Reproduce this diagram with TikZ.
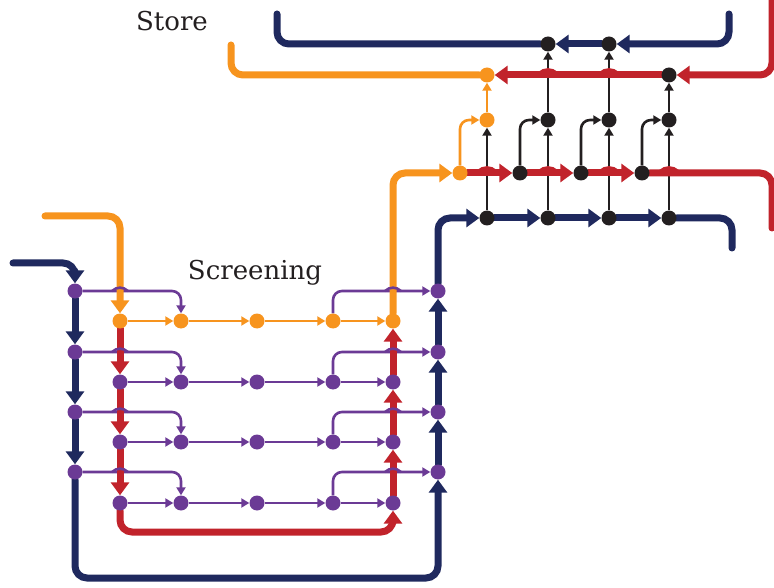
\documentclass[tikz,border=0pt]{standalone}
\usepackage{fontspec}
\setmainfont{DejaVu Serif}
\usetikzlibrary{arrows.meta,calc}
\definecolor{cnavy}{RGB}{31,41,94}
\definecolor{corange}{RGB}{247,148,30}
\definecolor{cred}{RGB}{193,35,43}
\definecolor{cpurple}{RGB}{107,58,149}
\definecolor{cblack}{RGB}{35,31,32}
\pgfdeclarelayer{thinl}
\pgfdeclarelayer{thickl}
\pgfsetlayers{thinl,thickl,main}
\newcommand{\bumpat}[3]{\draw[#3] (#1-8,#2) .. controls (#1-3,#2-4.5) and (#1+3,#2-4.5) .. (#1+8,#2);}
\begin{document}
\begin{tikzpicture}[x=1pt,y=-1pt,
  bigtip/.tip={Triangle[width=18pt,length=13pt]},
  smalltip/.tip={Triangle[width=9pt,length=8pt]},
  thickl/.style={line width=7pt, rounded corners=12pt, line cap=round},
  thinln/.style={line width=2.6pt, rounded corners=9pt},
  navyl/.style={thickl, draw=cnavy},
  orangel/.style={thickl, draw=corange},
  redl/.style={thickl, draw=cred},
  purl/.style={thinln, draw=cpurple, -smalltip},
  orthin/.style={thinln, draw=corange, -smalltip},
  blkl/.style={thinln, draw=cblack, -smalltip},
  dot/.style={circle, inner sep=0pt, minimum size=15pt, draw=none},
  pdot/.style={dot, fill=cpurple},
  odot/.style={dot, fill=corange},
  kdot/.style={dot, fill=cblack},
  lbl/.style={font=\fontsize{26}{30}\selectfont, text=cblack, inner sep=0pt}
]
\useasboundingbox (0,0) rectangle (774,588);

% labels
\node[lbl] (store) at (172,21) {Store};
\node[lbl] (screen) at (255,273) {Screening};

% left and right purple columns
\foreach \i/\y in {1/291,2/352,3/412,4/472} {
  \node[pdot] (L\i) at (75,\y) {};
  \node[pdot] (R\i) at (438,\y) {};
}
% screening rows
\foreach \c/\x in {1/120,2/181,3/257,4/333,5/393} {
  \node[odot] (A\c) at (\x,321) {};
}
\foreach \r/\y in {2/382,3/442,4/503} {
  \foreach \c/\x in {1/120,2/181,3/257,4/333,5/393} {
    \node[pdot] (P\r\c) at (\x,\y) {};
  }
}
% store region
\foreach \c/\x in {1/487,2/548,3/609,4/669} { \node[kdot] (B\c) at (\x,218) {}; }
\node[odot] (O1) at (460,173) {};
\node[kdot] (K1) at (520,173) {};
\node[kdot] (K2) at (581,173) {};
\node[kdot] (K3) at (642,173) {};
\node[odot] (O2) at (487,120) {};
\node[kdot] (C2) at (548,120) {};
\node[kdot] (C3) at (609,120) {};
\node[kdot] (C4) at (669,120) {};
\node[odot] (O3) at (487,75) {};
\node[kdot] (D4) at (669,75) {};
\node[kdot] (E2) at (548,44) {};
\node[kdot] (E3) at (609,44) {};

% free ends
\coordinate (navS) at (13,263);
\coordinate (navBot) at (250,578);
\coordinate (navE) at (732,248);
\coordinate (navT) at (729,14);
\coordinate (navT2) at (277,14);
\coordinate (orS) at (45,216);
\coordinate (orT) at (231,45);
\coordinate (redBot) at (250,532);
\coordinate (redE) at (772,228);
\coordinate (redT) at (772,-6);

\begin{pgfonlayer}{thinl}
  % purple feeds from left column
  \draw[purl] (L1) -| (A2);
  \draw[purl] (L2) -| (P22);
  \draw[purl] (L3) -| (P32);
  \draw[purl] (L4) -| (P42);
  % purple rows
  \foreach \r in {2,3,4} {
    \foreach \a/\b in {1/2,2/3,3/4,4/5} { \draw[purl] (P\r\a) -- (P\r\b); }
  }
  % purple outputs to right column
  \draw[purl] (A4) |- (R1);
  \draw[purl] (P24) |- (R2);
  \draw[purl] (P34) |- (R3);
  \draw[purl] (P44) |- (R4);
  % orange thin row
  \foreach \a/\b in {1/2,2/3,3/4,4/5} { \draw[orthin] (A\a) -- (A\b); }
  \draw[orthin] (O1) |- (O2);
  \draw[orthin] (O2) -- (O3);
  % black
  \draw[blkl] (B1) -- (O2);
  \draw[blkl] (B2) -- (C2);
  \draw[blkl] (B3) -- (C3);
  \draw[blkl] (B4) -- (C4);
  \draw[blkl] (C2) -- (E2);
  \draw[blkl] (C3) -- (E3);
  \draw[blkl] (C4) -- (D4);
  \draw[blkl] (K1) |- (C2);
  \draw[blkl] (K2) |- (C3);
  \draw[blkl] (K3) |- (C4);
\end{pgfonlayer}

\begin{pgfonlayer}{thickl}
  % navy
  \draw[navyl,-bigtip] (navS) -| (L1);
  \draw[navyl,-bigtip] (L1) -- (L2);
  \draw[navyl,-bigtip] (L2) -- (L3);
  \draw[navyl,-bigtip] (L3) -- (L4);
  \draw[navyl,-bigtip] (L4) |- (navBot) -| (R4);
  \draw[navyl,-bigtip] (R4) -- (R3);
  \draw[navyl,-bigtip] (R3) -- (R2);
  \draw[navyl,-bigtip] (R2) -- (R1);
  \draw[navyl,-bigtip] (R1) |- (B1);
  \draw[navyl,-bigtip] (B1) -- (B2);
  \draw[navyl,-bigtip] (B2) -- (B3);
  \draw[navyl,-bigtip] (B3) -- (B4);
  \draw[navyl] (B4) -| (navE);
  \draw[navyl,-bigtip] (navT) |- (E3);
  \draw[navyl,-bigtip] (E3) -- (E2);
  \draw[navyl] (E2) -| (navT2);
  % orange
  \draw[orangel,-bigtip] (orS) -| (A1);
  \draw[orangel,-bigtip] (A5) |- (O1);
  \draw[orangel] (O3) -| (orT);
  % red
  \draw[redl,-bigtip] (A1) -- (P21);
  \draw[redl,-bigtip] (P21) -- (P31);
  \draw[redl,-bigtip] (P31) -- (P41);
  \draw[redl,-bigtip] (P41) |- (redBot) -| (P45);
  \draw[redl,-bigtip] (P45) -- (P35);
  \draw[redl,-bigtip] (P35) -- (P25);
  \draw[redl,-bigtip] (P25) -- (A5);
  \draw[redl,-bigtip] (O1) -- (K1);
  \draw[redl,-bigtip] (K1) -- (K2);
  \draw[redl,-bigtip] (K2) -- (K3);
  \draw[redl] (K3) -| (redE);
  \draw[redl,-bigtip] (redT) |- (D4);
  \draw[redl,-bigtip] (D4) -- (O3);
\end{pgfonlayer}

% line jumps
\foreach \x/\y in {120/291,120/352,120/412,120/472,393/291,393/352,393/412,393/472} {
  \bumpat{\x}{\y}{draw=cpurple, line width=2.6pt}
}
\foreach \x/\y in {487/173,548/173,609/173,669/173,548/75,609/75} {
  \bumpat{\x}{\y}{draw=cred, line width=7pt}
}
\end{tikzpicture}
\end{document}
